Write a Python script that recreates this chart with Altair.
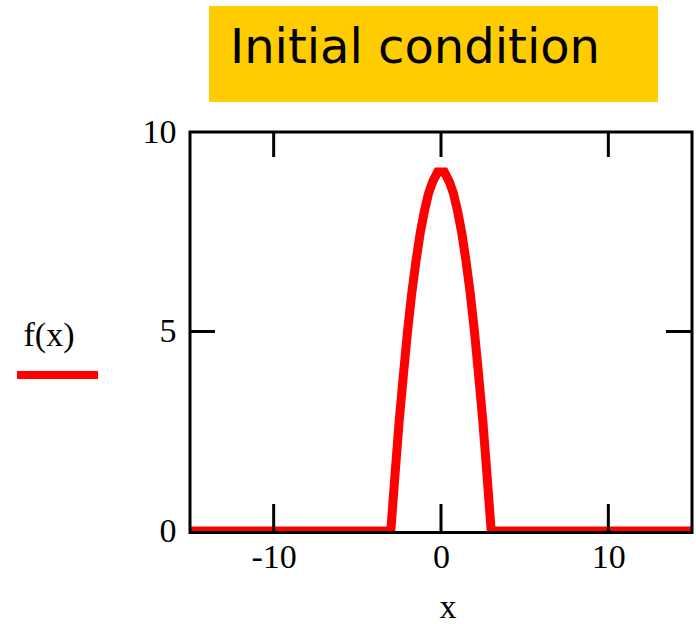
import altair as alt
import pandas as pd

# f(x) sampled along x: zero outside the central bump
x_vals = [-15, -3.0, -2.75, -2.5, -2.25, -2.0, -1.75, -1.5, -1.25, -1.0, -0.75, -0.5, -0.2,
          0.0, 0.2, 0.5, 0.75, 1.0, 1.25, 1.5, 1.75, 2.0, 2.25, 2.5, 2.75, 3.0, 15]
f_vals = [0, 0, 1.4, 2.75, 3.9, 5.0, 5.95, 6.75, 7.45, 8.0, 8.45, 8.75, 9.0,
          9.0, 9.0, 8.75, 8.45, 8.0, 7.45, 6.75, 5.95, 5.0, 3.9, 2.75, 1.4, 0, 0]

x_ticks = [-10, 0, 10]
y_ticks = [0, 5, 10]
y_mid_ticks = [5]

title_text = "Initial condition"
legend_label = "f(x)"
x_title = "x"

W, H = 502, 399
SERIF = "Liberation Serif"

curve = pd.DataFrame({"x": x_vals, "f": f_vals})
one = pd.DataFrame({"k": [0]})

xs = alt.Scale(domain=[-15, 15], nice=False, zero=False)
ys = alt.Scale(domain=[0, 10], nice=False, zero=False)

axis_common = dict(title=None, grid=False, domain=False, ticks=False, tickSize=0,
                   labelFont=SERIF, labelFontSize=34, labelColor="black",
                   labelExpr="'' + datum.value")
x_axis = alt.Axis(values=x_ticks, labelPadding=9, **axis_common)
y_axis = alt.Axis(values=y_ticks, labelPadding=14, **axis_common)

line = alt.Chart(curve).mark_line(
    color="#ff0000", strokeWidth=9, clip=True, strokeJoin="miter"
).encode(
    x=alt.X("x:Q", scale=xs, axis=x_axis),
    y=alt.Y("f:Q", scale=ys, axis=y_axis),
)

# inward ticks on all four sides
xt = pd.DataFrame({"t": x_ticks})
yt = pd.DataFrame({"t": y_mid_ticks})
tick_style = dict(color="black", strokeWidth=3)
top_ticks = alt.Chart(xt).mark_rule(**tick_style).encode(
    x=alt.X("t:Q", scale=xs, axis=x_axis), y=alt.value(0), y2=alt.value(25))
bottom_ticks = alt.Chart(xt).mark_rule(**tick_style).encode(
    x=alt.X("t:Q", scale=xs, axis=x_axis), y=alt.value(H - 27), y2=alt.value(H))
left_ticks = alt.Chart(yt).mark_rule(**tick_style).encode(
    y=alt.Y("t:Q", scale=ys, axis=y_axis), x=alt.value(0), x2=alt.value(25))
right_ticks = alt.Chart(yt).mark_rule(**tick_style).encode(
    y=alt.Y("t:Q", scale=ys, axis=y_axis), x=alt.value(W - 26), x2=alt.value(W))

# plot frame drawn above the trace
frame = alt.Chart(one).mark_rect(fill=None, stroke="black", strokeWidth=3).encode(
    x=alt.value(0), x2=alt.value(W), y=alt.value(0), y2=alt.value(H + 1.5))

# title banner
banner = alt.Chart(one).mark_rect(color="#ffcc00").encode(
    x=alt.value(19), x2=alt.value(468), y=alt.value(-126), y2=alt.value(-30))
banner_text = alt.Chart(one).mark_text(
    text=title_text, font="DejaVu Sans", fontSize=48, color="black",
    align="left", baseline="alphabetic"
).encode(x=alt.value(40), y=alt.value(-69))

# trace legend
legend_text = alt.Chart(one).mark_text(
    text=legend_label, font=SERIF, fontSize=34, color="black",
    align="center", baseline="alphabetic"
).encode(x=alt.value(-141), y=alt.value(214))
legend_line = alt.Chart(one).mark_rule(color="#ff0000", strokeWidth=8).encode(
    x=alt.value(-173), x2=alt.value(-92), y=alt.value(243))

# x axis title
xlabel = alt.Chart(one).mark_text(
    text=x_title, font=SERIF, fontSize=34, color="black",
    align="center", baseline="alphabetic"
).encode(x=alt.value(258), y=alt.value(486))

chart = alt.layer(
    line, top_ticks, bottom_ticks, left_ticks, right_ticks, frame,
    banner, banner_text, legend_text, legend_line, xlabel
).properties(
    width=W, height=H,
    autosize=alt.AutoSizeParams(type="none"),
    padding={"left": 190, "top": 132, "right": 4, "bottom": 93},
    background="white",
).configure_view(stroke=None)

chart.save("out.html", embed_options={"renderer": "svg", "actions": False})
